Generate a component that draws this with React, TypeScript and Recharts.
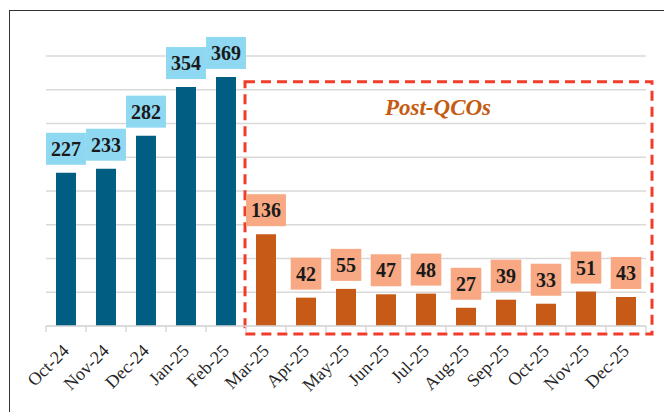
import { BarChart, Bar, XAxis, YAxis, CartesianGrid, Cell, LabelList, ReferenceArea } from "recharts";

const MONTHS = [
  "Oct-24", "Nov-24", "Dec-24", "Jan-25", "Feb-25",
  "Mar-25", "Apr-25", "May-25", "Jun-25", "Jul-25",
  "Aug-25", "Sep-25", "Oct-25", "Nov-25", "Dec-25",
];
const COUNTS = [227, 233, 282, 354, 369, 136, 42, 55, 47, 48, 27, 39, 33, 51, 43];
const PRE_MONTHS = 5; // first five months are before the QCOs
const Y_TICKS = [0, 50, 100, 150, 200, 250, 300, 350, 400];
const POST_LABEL = "Post-QCOs";
const POST_BOX_TOP = 362;

const W = 664;
const H = 412;
const MARGIN = { top: 56, right: 18, bottom: 56, left: 46 };
const HALF_BAND = (W - MARGIN.left - MARGIN.right) / MONTHS.length / 2;

const SERIF = "'Liberation Serif', 'Times New Roman', serif";
const BLUE = "#005E82";
const ORANGE = "#C65A16";
const BLUE_BOX = "#8FD8F2";
const ORANGE_BOX = "#F8A983";
const GRID = "#D9D9D9";

const data = MONTHS.map((month, i) => ({ month, count: COUNTS[i] }));

function ValueLabel(props: any) {
  const { x, y, width, value, index } = props;
  const pre = index < PRE_MONTHS;
  const text = String(value);
  const bw = text.length * 9.3 + 12;
  const bh = 32;
  const cx = x + width / 2;
  const top = y - 8 - bh;
  return (
    <g>
      <rect x={cx - bw / 2} y={top} width={bw} height={bh} fill={pre ? BLUE_BOX : ORANGE_BOX} />
      <text
        x={cx}
        y={top + bh / 2 + 7}
        textAnchor="middle"
        fontFamily={SERIF}
        fontWeight="bold"
        fontSize={20}
        fill="#1a1a1a"
      >
        {text}
      </text>
    </g>
  );
}

function MonthTick(props: any) {
  const { x, y, payload, index } = props;
  const last = index === MONTHS.length - 1;
  const tx = x + 4;
  const ty = y + 26;
  return (
    <g>
      <line x1={x - HALF_BAND} y1={y} x2={x - HALF_BAND} y2={y + 6} stroke={GRID} strokeWidth={1.5} />
      {last && <line x1={x + HALF_BAND} y1={y} x2={x + HALF_BAND} y2={y + 6} stroke={GRID} strokeWidth={1.5} />}
      <text
        x={tx}
        y={ty}
        textAnchor="end"
        transform={`rotate(-45, ${tx}, ${ty})`}
        fontFamily={SERIF}
        fontSize={18}
        fill="#262626"
      >
        {payload.value}
      </text>
    </g>
  );
}

function PostBox(props: any) {
  const { x, y, width, height } = props;
  return (
    <g>
      <rect
        x={x - 1}
        y={y}
        width={width + 7}
        height={height + 8}
        fill="none"
        stroke="#F03C28"
        strokeWidth={3}
        strokeDasharray="10 6"
      />
      <text
        x={x + width * 0.48}
        y={y + 33}
        textAnchor="middle"
        fontFamily={SERIF}
        fontWeight="bold"
        fontStyle="italic"
        fontSize={23}
        fill="#C55A11"
      >
        {POST_LABEL}
      </text>
    </g>
  );
}

export default function App() {
  return (
    <div style={{ position: "absolute", left: 0, top: 0, width: W, height: H, background: "#fff", overflow: "hidden" }}>
      <div
        style={{
          position: "absolute",
          left: 9,
          top: 10,
          width: W,
          height: H,
          borderLeft: "1.5px solid #333",
          borderTop: "1.5px solid #333",
        }}
      />
      <BarChart width={W} height={H} data={data} margin={MARGIN}>
        <CartesianGrid vertical={false} stroke={GRID} strokeWidth={1.5} />
        <XAxis
          dataKey="month"
          interval={0}
          tickSize={0}
          tickMargin={0}
          tickLine={false}
          axisLine={{ stroke: GRID, strokeWidth: 1.5 }}
          tick={<MonthTick />}
        />
        <YAxis hide domain={[0, 400]} ticks={Y_TICKS} />
        <ReferenceArea
          x1="Mar-25"
          x2="Dec-25"
          y1={0}
          y2={POST_BOX_TOP}
          ifOverflow="visible"
          shape={<PostBox />}
        />
        <Bar dataKey="count" barSize={20} isAnimationActive={false}>
          {data.map((d, i) => (
            <Cell key={d.month} fill={i < PRE_MONTHS ? BLUE : ORANGE} />
          ))}
          <LabelList dataKey="count" content={<ValueLabel />} />
        </Bar>
      </BarChart>
    </div>
  );
}
